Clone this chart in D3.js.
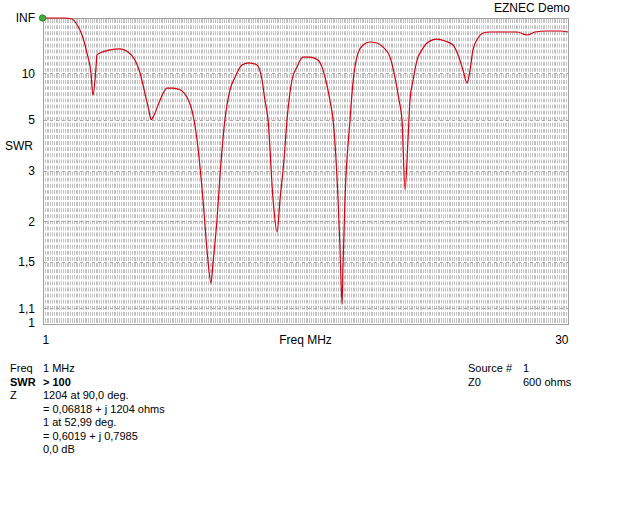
<!DOCTYPE html>
<html>
<head>
<meta charset="utf-8">
<script src="https://cdn.jsdelivr.net/npm/d3@7"></script>
<style>
  body { margin: 0; background: #ffffff; }
  svg { display: block; }
  text { font-family: "Liberation Sans", Arial, sans-serif; fill: #000; }
</style>
</head>
<body>
<svg id="chart" width="640" height="512"></svg>
<script>
// ---- data ----
const freqMHz = [1.00, 1.66, 2.22, 2.60, 2.82, 3.04, 3.21, 3.43, 3.65, 3.76, 3.93, 3.98, 4.15, 4.70, 5.25, 5.70, 6.08, 6.36, 6.63, 6.85, 6.97, 7.10, 7.46, 7.85, 8.18, 8.57, 8.95, 9.23, 9.51, 9.84, 10.06, 10.28, 10.39, 10.61, 10.78, 11.05, 11.33, 11.61, 11.99, 12.38, 12.82, 13.10, 13.26, 13.43, 13.71, 13.93, 14.09, 14.31, 14.48, 14.75, 15.03, 15.36, 15.75, 16.19, 16.58, 16.85, 17.02, 17.30, 17.41, 17.52, 17.57, 17.68, 17.96, 18.12, 18.40, 18.68, 19.06, 19.45, 19.78, 20.17, 20.44, 20.67, 20.83, 21.00, 21.16, 21.27, 21.44, 21.71, 21.83, 22.21, 22.76, 23.21, 23.65, 23.93, 24.20, 24.42, 24.59, 24.75, 25.03, 25.31, 25.69, 26.24, 26.80, 27.18, 27.74, 28.18, 28.84, 29.56, 30.00];
const swrValues = [Infinity, Infinity, Infinity, 605, 121, 49.9, 29.5, 16.4, 10.1, 6.9, 11.5, 15.5, 16.4, 18.1, 18.7, 16.9, 13.5, 10.1, 7.1, 5.6, 5.0, 5.2, 6.4, 7.7, 7.7, 7.5, 6.7, 5.6, 4.0, 2.35, 1.63, 1.30, 1.49, 2.02, 2.89, 5.0, 7.5, 9.3, 12.0, 12.6, 12.0, 8.84, 6.4, 5.0, 2.35, 1.85, 2.35, 3.29, 5.0, 8.8, 11.45, 14.6, 14.6, 13.5, 9.3, 6.4, 5.0, 2.35, 1.63, 1.13, 1.45, 2.35, 5.0, 8.4, 16.4, 21.6, 24.4, 23.4, 20.0, 14.6, 9.3, 6.4, 5.0, 2.55, 4.0, 6.4, 8.8, 14.6, 16.4, 23.4, 28.0, 25.5, 21.6, 15.5, 10.7, 8.4, 10.7, 18.1, 29.5, 39.6, 42.6, 42.6, 42.6, 42.6, 34.9, 42.6, 45.9, 45.9, 42.6];

const yTickValues = [Infinity, 10, 5, 3, 2, 1.5, 1.1, 1];
const yTickLabels = ["INF", "10", "5", "3", "2", "1,5", "1,1", "1"];
const xTickValues = [1, 30];
const xTickLabels = ["1", "30"];

const infoLabels = ["Freq", "SWR", "Z", "", "", "", ""];
const infoValues = ["1 MHz", "> 100", "1204 at 90,0 deg.", "= 0,06818 + j 1204 ohms", "1 at 52,99 deg.", "= 0,6019 + j 0,7985", "0,0 dB"];
const sourceLabels = ["Source #", "Z0"];
const sourceValues = ["1", "600 ohms"];

// ---- chart ----
const svg = d3.select("#chart");
const rho = s => isFinite(s) ? (s - 1) / (s + 1) : 1;

const x = d3.scaleLinear().domain([1, 30]).range([43, 568]);
const y = d3.scaleLinear().domain([0, 1]).range([323, 18]);

// dense background texture: vertical gray lines at each 0.1 MHz step
const grid = svg.append("g");
grid.selectAll("line.v")
  .data(d3.range(1.1, 30, 0.1))
  .join("line")
  .attr("x1", d => Math.round(x(d)) + 0.5).attr("x2", d => Math.round(x(d)) + 0.5)
  .attr("y1", y(1)).attr("y2", y(0))
  .attr("stroke", "#c2c2c2").attr("stroke-width", 1)
  .attr("shape-rendering", "crispEdges");
// white separators at each 0.02 step of reflection coefficient
grid.selectAll("line.h")
  .data(d3.range(0.02, 1, 0.02))
  .join("line")
  .attr("x1", x(1) + 1).attr("x2", x(30))
  .attr("y1", d => y(d)).attr("y2", d => y(d))
  .attr("stroke", "#ffffff").attr("stroke-width", 2.2);
// dashed major lines at labelled SWR values
grid.selectAll("line.m")
  .data(yTickValues.filter(v => isFinite(v) && v > 1))
  .join("line")
  .attr("x1", x(1) + 1).attr("x2", x(30))
  .attr("y1", d => Math.round(y(rho(d))) + 0.5).attr("y2", d => Math.round(y(rho(d))) + 0.5)
  .attr("stroke", "#a8a8a8").attr("stroke-width", 1)
  .attr("stroke-dasharray", "3,3")
  .attr("shape-rendering", "crispEdges");

// frame
svg.append("rect")
  .attr("x", x(1) + 0.5).attr("y", y(1) + 0.5)
  .attr("width", x(30) - x(1)).attr("height", y(0) - y(1) + 1)
  .attr("fill", "none").attr("stroke", "#a0a0a0")
  .attr("shape-rendering", "crispEdges");

// y axis labels
const yAxis = d3.axisLeft(y)
  .tickValues(yTickValues.map(rho))
  .tickFormat((d, i) => yTickLabels[i])
  .tickSize(0).tickPadding(8);
const gy = svg.append("g").attr("transform", `translate(${x(1)},0)`).call(yAxis);
gy.select(".domain").remove();
gy.selectAll("text").attr("font-size", 12).attr("font-family", "Liberation Sans, Arial, sans-serif").attr("fill", "#000");

svg.append("text").attr("x", 5).attr("y", 150).attr("font-size", 12).text("SWR");

// x axis labels
const xAxis = d3.axisBottom(x)
  .tickValues(xTickValues)
  .tickFormat((d, i) => xTickLabels[i])
  .tickSize(0).tickPadding(12);
const gx = svg.append("g").attr("transform", `translate(0,${y(0)})`).call(xAxis);
gx.select(".domain").remove();
gx.selectAll("text").attr("font-size", 12).attr("font-family", "Liberation Sans, Arial, sans-serif").attr("fill", "#000")
  .attr("text-anchor", (d, i) => i === 0 ? "start" : "end")
  .attr("dx", (d, i) => i === 0 ? -1 : 0);
svg.append("text").attr("x", (x(1) + x(30)) / 2).attr("y", 344).attr("font-size", 12)
  .attr("text-anchor", "middle").text("Freq MHz");

// title
svg.append("text").attr("x", 494).attr("y", 12).attr("font-size", 12).text("EZNEC Demo");

// curve
const pts = freqMHz.map((f, i) => [f, swrValues[i]]);
const line = d3.line().x(d => x(d[0])).y(d => y(rho(d[1]))).curve(d3.curveMonotoneX);
svg.append("path").datum(pts)
  .attr("d", line)
  .attr("fill", "none").attr("stroke", "#d00010").attr("stroke-width", 1.2)
  .attr("stroke-linejoin", "round");

// marker at start
svg.append("circle")
  .attr("cx", x(freqMHz[0]) - 0.5).attr("cy", y(rho(swrValues[0])))
  .attr("r", 3.2).attr("fill", "#3ab03a").attr("stroke", "#1e7a1e").attr("stroke-width", 0.8);

// info block
const info = svg.append("g").attr("font-size", 11);
const rowY = i => 372 + i * 13.5;
infoLabels.forEach((t, i) => {
  if (t) info.append("text").attr("x", 10).attr("y", rowY(i)).attr("font-size", 11)
    .attr("font-weight", i === 1 ? "bold" : "normal").text(t);
});
infoValues.forEach((t, i) => {
  info.append("text").attr("x", 43).attr("y", rowY(i)).attr("font-size", 11)
    .attr("font-weight", i === 1 ? "bold" : "normal").text(t);
});
sourceLabels.forEach((t, i) => {
  info.append("text").attr("x", 468).attr("y", rowY(i)).attr("font-size", 11).text(t);
});
sourceValues.forEach((t, i) => {
  info.append("text").attr("x", 523).attr("y", rowY(i)).attr("font-size", 11).text(t);
});
</script>
</body>
</html>
